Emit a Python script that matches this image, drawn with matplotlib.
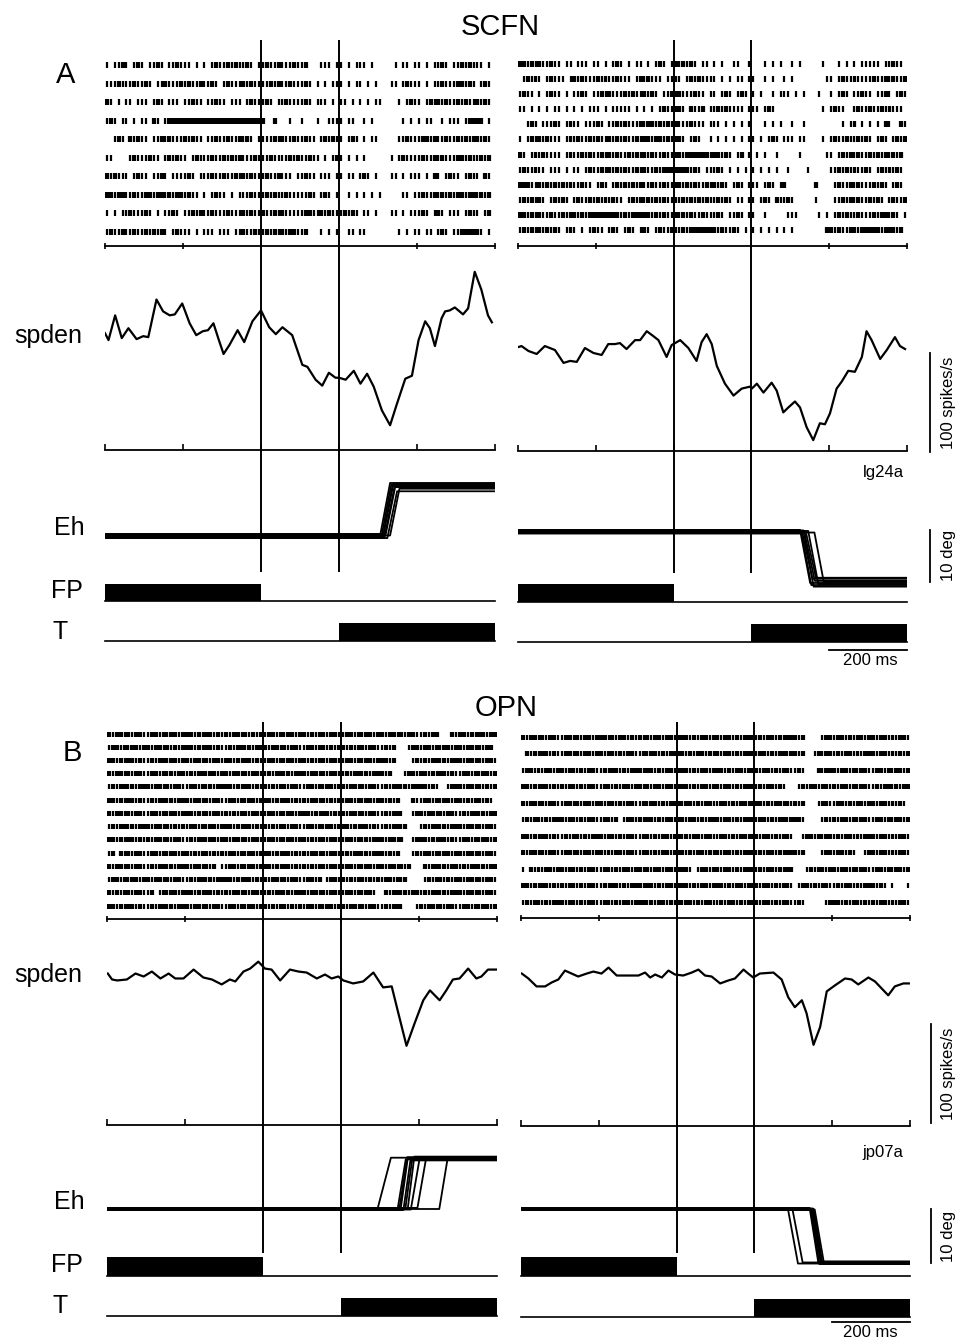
import matplotlib.pyplot as plt
import numpy as np

plt.rcParams["font.family"] = ["Liberation Sans", "DejaVu Sans"]

FIG_W, FIG_H, DPI = 959, 1343, 100

TIME_SPAN = (0, 1000)
TIME_TICKS = [0, 200, 400, 600, 800, 1000]
EVENT_TIMES = [400, 600]          # FP off, T on
FP_ON = (0, 400)
T_ON = (600, 1000)
BIN_MS = 10                       # raster strings: one char per 10 ms, ' ' none, '|' one spike, ':' two

# ---------------- rasters ----------------
RASTER_A_LEFT = [
    "| ||:| |:|" " ||:| ||:|" "|| | | |:|" "|:|:||:| |" "|:||:|||:|" "|:   ||| |" "| | ||| | " "    | || |" "| | ||:| |" "|:|:||| | ",
    "|||:|||:||" ":| ||:|||:" "|:||:||:| " "|:|||:|:||" "||:|:||:||" "|:| | | ||" "| | || | |" "   || |:||" "| | ||:|||" "::|:| |:| ",
    ":| | || ||" "| |:| ||| " "||:|| ||:|" "| ||| |:||" "|:| ||:|||" "|:| ||| | " "|| | | | |" "|    | |:|" "| |:|:|:||" ":|:||:|:| ",
    "|:| || | |" "| :| |::::" "::::::::::" "::::::::::" ":  :   |  " "|   |  |||" "| ||  | | " "      | | " "| ||  | ||" "| |:::: | ",
    "  |:| :|:|" "| ||:|:|||" ":|:|| ||:|" "|:||:|:| |" "|||:|:||:|" "|:|| |:|:|" "| |:| | ||" "     ||:||" "|::|:||:||" ":|:|::|:| ",
    "||    |:||" "|:|| |:|:|" "| |:|||:||" ":|:|:|||:|" "||:||||:|:" "||:|| | |:" "| | | |   " "   | |:|||" "|:||:|:|||" "::|:||:|: ",
    ":|:||| |:|" "| ||:| |||" "|:| |||:||" ":||:|:|:||" "|:||:||| |" "|:|| ||| |" "| || |:| |" "   || | ||" "| | :| |:|" "| |:|| :| ",
    "::|::||:||" "::|::|:|::" "|:|| | |:|" "| | |||:||" "|:|:||:|||" "||:| |:| |" "  | | | | " "|     || |" "|:||:|:|:|" "::|::|:|: ",
    "| | ||:|||" ":| | ||:| " "||:|:||:||" "|:|||:|:||" ":||:|:||||" "|::||:|:||" "|:|:| || |" "   || | ||" "|:| |:| ||" "| |:|| |: ",
    "|:||:||:||" ":|:|:| |:|" "|| | ||| |" "|| ||:||:|" "|:|:|:|::|" "|:   | | |" "  || ||   " "     | | |" "| || |:| |" "|:::::| | ",
]

RASTER_A_RIGHT = [
    "::|:|:||:|" "| || ||| |" "| | |:| | " "|| | |:| |" ":|:|:| || " "| |  ||  |" "   | | |  " "| |     | " "  | | | ||" "||| ||:|| ",
    " |:|:| |:|" "|| |:|:|||" ":|:||:||| " "|:|:||| ||" "|| |:|:|||" "| | | || |" "|  | |  | " "|        |" "| |:||:|||" "|:||:|:||:",
    "|:|| | |:|" "| | ||:| |" "|:|:|||:|:" "||:|:| ||:" "|:|||:|| |" "| |:| |:| " "| |  | |||" " | |   |  " "| |:| ||:|" "| ||:| |:|",
    "|| | | | |" "| | | | ||" "| | ||||| " "| | | |:||" "|:| :||: |" "|:|:|||| |" "|| |:|    " "        | " "|:||  |:||" ":||:|:||| ",
    "  |:| |||:" "| |:|| |||" ":| ||:|:||" "|:|::|:|:|" ":|||:||| |" "|| | | | |" "   | | |  " "|  |      " "   | |: | " "| | :|  :|",
    "| |:|:|:||" "| |:|:||:|" ":||:|:|:||" ":|::|::|:|" "|:| |:|  |" " | | | | |" "| | |:| ||" "| ||    | " "|:||:||:|:" "| |:| |:|:",
    ":| |:|:|||" "| |:||:|:|" "|:|:|:||:|" ":|:|:||:||" "|:|::::::|" "::|:| |: |" " | |  |   " "  |      |" "| |:|:|:||" ":|:|:|:|: ",
    "|:||:|| ||" "| | || |:|" "|:|:|:|:||" ":|:||:|:::" "::::|:| ||" "|:| | | | " "| | | |  |" "    |     " "||:|:|:||:" "| |:|:|:| ",
    ":::||:|:|:" "|:|:||:|| " "|:| |:|:|:" "|:||:||:||" "|:|:|:||:|" ":|:| |:| |" "|| |:| |: " "      :   " " |:||:|:||" "|:|:| |:| ",
    "|:|:|:| |:" "|:| |:||:|" ":|:|:|| |:" "|:|:|:|:||" "||:|:|:|:|" "|:|:| || |" "| |:| :||:" "|     |   " " ||:|:|:||" ":|:| |:||:",
    "::|:|:||:|" "|:|::|:|::" "::::::|:|:" "::::|:|:||" ":|:|:||:||" "|:| ||:| |" "|  |     |" "||     | |" " |:|:||:||" "|:|::|:| |",
    "|:|:|:|:|:" "| |:| | |:" "|| |:| |:|" " |:| |:||:" "||:|::::::" ":|:||:| | " "| | | | | " "|        :" ":|:||::|::" ":::|:::|: ",
]

RASTER_B_LEFT = [
    ":|::|:|::|" "|::|:|::|:" "::|:|::|:|" ":|::|:|:|:" "|::|:|::|:" ":|:|::|::|" "|::|:|::|:" ":|::|:|::|" "|:|::   :|" "::|:|::|::",
    "|::|:|::|:" ":|::|:|:|:" "::|:|::|:|" "|:|::|:|::" ":|::|:|::|" "|::|::|:|:" ":|:|::|::|" "|:|:   |::" "|::|:|::|:" ":|::|:|:: ",
    "::|:|::|:|" "|:|::|::|:" ":|::|:|::|" "::|:|::|:|" "|::|:|::|:" ":|:|::|::|" "|::|:|::|:" "::|:    |:" "|:|::|:|::" ":|::|:|::|",
    ":|::|:|::|" "|::|:|:|::" "|:|::|::|:" ":|::|:|::|" "|:|::|:|::" ":|::|:|::|" "|:|::|:|::" ":|:   |::|" "::|:|::|:|" "|::|:|::|:",
    "|:|::|:|::" ":|::|:|::|" "|::|:|:|::" "::|:|::|:|" ":|:|::|::|" "|::|:|::|:" ":|::|:|::|" "|:|::|:|::" "::|:|  |::" ":|::|:|:|:",
    "::|:|::|:|" "|:|::|:|::" ":|::|:|::|" "|::|:|::|:" "::|:|::|:|" ":|::|:|:|:" "|::|:|::|:" ":|:|:   :|" "|::|:|::|:" ":|:|::|:| ",
    ":|::|:|::|" "|::|:|::|:" "::|:|:|::|" ":|:|::|::|" "|::|:|::|:" "::|:|::|:|" ":|::|:|::|" "|:|::|  |:" ":|::|:|::|" "|:|::|:|::",
    "|:|::|:|::" ":|::|:|:|:" "|::|:|::|:" "::|:|::|:|" ":|:|::|::|" "|::|:|::|:" "::|:|::|:|" "|:|::|:   " "|:|::|:|::" ":|::|:|::|",
    "::|:|::|:|" ":|::|:|::|" "|:|::|::|:" ":|::|:|::|" "|::|:|::|:" ":|:|::|::|" "|::|:|:|::" ":|::|:  |:" "::|:|::|:|" "|::|:|::|:",
    "|: :|:|::|" "|::|:|::|:" ":|:|::|:|:" "|::|:|::|:" "::|:|::|:|" ":|::|:|::|" "|:|::|:|::" ":|:|:   |:" "|::|:|::|:" ":|::|:|::|",
    ":|::|:|::|" "|:|::|:|::" ":|::|:|: |" "|::|:|::|:" "::|:|::|:|" ":|:|::|::|" "|::|:|::|:" ":|::|:|:  " " :|::|:|::" "|:|::|:|::",
    "|::|:|::|:" ":|::|:|::|" "|:|::|:|::" "::|:|::|:|" ":|::|:|::|" "|::|: |::|" ":|:|::|:|:" "|::|:|:   " " |:|::|:|:" ":|::|:|::|",
    ":|:|::|::|" "|: |:|::|:" "::|:|::|:|" ":|::|:|::|" "|:|::|:|::" ":|::|:|::|" "|::|:|::| " " :|::|:|::" "|:|::|:|::" ":|::|:|::|",
    "::|:|::|:|" "|:|::|:|::" ":|::|:|::|" "|::|:|::|:" ":|:|::|:|:" "|::|:|::|:" ":|::|:|::|" "|:|::|   |" ":|::|:|::|" "|::|:|::|:",
]

RASTER_B_RIGHT = [
    ":|::|:|::|" "|::|:|::|:" "::|:|::|:|" ":|:|::|::|" "|::|:|::|:" ":|::|:|::|" "|:|::|:|::" ":|:    |::" "|::|:|::|:" ":|::|:|::|",
    " :|:|::|:|" "|::|:|::|:" ":|::|:|::|" "|:|::|:|::" "::|:|::|:|" ":|::|:|::|" "|::|:|::|:" ":|:  |:|::" "|:|::|:|::" ":|::|:|:|:",
    "|::|:|::|:" ":|::|:|::|" "|:|::|:|::" ":|::|:|::|" "|::|:|::|:" "::|:|::|:|" ":|::|:|::|" "|:|   :|::" ":|::|:|::|" "|::|:|::|:",
    "::|:|::|:|" ":|::|:|::|" "|::|:|::|:" ":|:|::|::|" "|::|:|::|:" ":|::|:|::|" "|:|::|:|  " " |:|::|::|" ":|::|:|::|" "|:|::|:|::",
    ":|::|:|::|" "|::|:|::|:" ":|::|:|::|" "|:|::|:|::" ":|::|:|::|" "|::|:|::|:" "::|:|::|:|" ":|:   |::|" "|::|:|::|:" ":|::|:|:| ",
    "|:|::|:|::" ":|::|:|::|" "|::|: |::|" ":|::|:|::|" "|:|::|:|::" ":|::|:|::|" "|::|:|::|:" "::|    |:|" ":|::|:|::|" "|::|:|::|:",
    "::|:|::|:|" "|:|::|:|::" ":|::|:|::|" "|::|:|::|:" ":|:|::|::|" "|::|:|::|:" ":|::|:|::|" "  |::|:|::" "|:|::|:|::" ":|::|:|::|",
    ":|::|:|::|" "|::|:|::|:" ":|:|::|::|" "|::|:|::|:" "::|:|::|:|" ":|::|:|::|" "|:|::|:|::" ":|:    |::" "|::|:|  |:" ":|::|:|::|",
    "| :|:|::|:" ":|::|:|::|" "|::|:|::|:" ":|:|::|::|" "|::| |::|:" ":|::|:|::|" "|:|::|:|::" "   |:|::|:" ":|::|:|::|" "|::|:|::|:",
    "::|:|::|:|" ":|::|:|::|" "|:|::|:|::" ":|::|:|::|" "|::|:|::|:" "::|:|::|:|" ":|::|:|::|" " |::|:|::|" "|:|::|:|::" ":|:| |   |",
    "|:|::|:|::" ":|::|:|::|" "|::|:|::|:" "::|:|::|:|" ":|::|:|::|" "|:|::|:|::" ":|::|:|::|" "|:|     |:" "::|:|::|:|" ":|::|:|::|",
]

# ---------------- spike density (ms, spikes/s) ----------------
SPDEN_A_LEFT_T = [0, 9, 26, 43, 60, 81, 98, 111, 132, 149, 166, 179, 198, 217, 234, 251, 264, 278, 292, 304,
                  319, 340, 357, 378, 400, 421, 438, 455, 480, 506, 519, 540, 557, 574, 591, 600, 617, 638, 655, 672,
                  689, 710, 731, 748, 770, 787, 804, 821, 833, 846, 863, 872, 884, 897, 918, 931, 948, 965, 982, 992]
SPDEN_A_LEFT_RATE = [118, 111, 136, 113, 123, 112, 115, 114, 152, 140, 136, 137, 148, 128, 116, 120, 121, 128, 111, 97,
                     106, 121, 109, 130, 141, 124, 117, 124, 116, 86, 84, 71, 65, 78, 73, 73, 71, 80, 67, 77,
                     64, 40, 25, 46, 72, 75, 111, 130, 123, 105, 133, 140, 141, 144, 137, 143, 180, 162, 136, 129]

SPDEN_A_RIGHT_T = [1, 9, 27, 48, 69, 95, 117, 134, 151, 172, 194, 215, 232, 249, 262, 279, 301, 314, 331, 348,
                   361, 382, 395, 417, 438, 459, 472, 485, 498, 511, 532, 554, 575, 596, 601, 614, 631, 652, 665, 682,
                   695, 712, 725, 742, 759, 776, 789, 802, 819, 832, 849, 866, 884, 896, 909, 931, 948, 969, 982, 995]
SPDEN_A_RIGHT_RATE = [105, 106, 101, 98, 106, 102, 89, 91, 90, 104, 99, 97, 108, 108, 109, 103, 112, 112, 121, 116,
                      112, 95, 107, 112, 104, 91, 110, 118, 108, 86, 68, 56, 63, 65, 63, 68, 59, 69, 61, 39,
                      44, 50, 44, 24, 11, 28, 27, 38, 63, 70, 81, 80, 95, 121, 112, 93, 102, 115, 106, 103]

SPDEN_B_LEFT_T = [2, 13, 26, 51, 73, 94, 115, 137, 158, 175, 196, 222, 247, 269, 294, 315, 329, 350, 367, 388,
                  405, 422, 444, 469, 491, 512, 538, 559, 576, 593, 606, 631, 657, 683, 708, 730, 747, 768, 789, 811,
                  828, 853, 870, 887, 904, 926, 947, 960, 977, 998]
SPDEN_B_LEFT_RATE = [153, 147, 146, 147, 153, 150, 155, 148, 153, 148, 148, 157, 149, 147, 142, 147, 145, 155, 158, 165,
                     158, 157, 146, 157, 155, 154, 148, 152, 148, 150, 146, 143, 145, 154, 139, 140, 113, 80, 103, 126,
                     136, 126, 136, 147, 148, 158, 148, 150, 157, 157]

SPDEN_B_RIGHT_T = [2, 19, 40, 62, 79, 96, 113, 130, 147, 169, 186, 207, 225, 246, 272, 302, 319, 332, 345, 362,
                   379, 396, 417, 439, 456, 473, 490, 512, 533, 550, 572, 584, 597, 614, 649, 670, 687, 704, 722, 734,
                   752, 769, 786, 807, 833, 850, 867, 893, 910, 927, 944, 961, 983, 997]
SPDEN_B_RIGHT_RATE = [154, 149, 141, 141, 145, 148, 157, 154, 151, 154, 156, 154, 160, 152, 152, 152, 155, 150, 153, 150,
                      157, 153, 152, 155, 158, 152, 151, 144, 147, 149, 158, 154, 150, 154, 155, 148, 130, 120, 127, 114,
                      82, 100, 136, 142, 149, 148, 143, 150, 146, 139, 132, 141, 144, 144]

# ---------------- horizontal eye position, one entry per trial (ms, deg) ----------------
EH_A_LEFT_ONSET = [706, 709, 712, 714, 717, 720, 724, 731]
EH_A_LEFT_END = [731, 734, 737, 739, 742, 745, 749, 755]
EH_A_LEFT_START = [0.3, 0.0, -0.3, 0.2, -0.2, 0.4, -0.4, 0.1]
EH_A_LEFT_FINAL = [10.2, 9.9, 9.6, 10.0, 9.4, 9.8, 8.6, 9.1]

EH_A_RIGHT_ONSET = [725, 728, 731, 734, 737, 740, 746, 762]
EH_A_RIGHT_END = [751, 754, 757, 760, 763, 766, 772, 786]
EH_A_RIGHT_START = [0.4, 0.1, -0.2, 0.3, -0.3, 0.0, 0.2, -0.1]
EH_A_RIGHT_FINAL = [-9.8, -10.2, -9.0, -10.5, -9.4, -8.8, -10.0, -9.6]

EH_B_LEFT_ONSET = [694, 745, 750, 753, 760, 765, 771, 779, 796, 852]
EH_B_LEFT_END = [728, 766, 770, 771, 778, 783, 788, 801, 818, 873]
EH_B_LEFT_START = [0.1, -0.1, 0.2, 0.0, -0.2, 0.1, 0.0, -0.1, 0.2, 0.0]
EH_B_LEFT_FINAL = [9.5, 9.2, 9.6, 9.3, 9.0, 9.4, 9.7, 9.1, 9.3, 9.2]

EH_B_RIGHT_ONSET = [686, 698, 742, 745, 748, 750, 752, 755]
EH_B_RIGHT_END = [712, 724, 764, 767, 770, 772, 775, 778]
EH_B_RIGHT_START = [0.1, -0.1, 0.2, 0.0, -0.2, 0.1, 0.0, -0.1]
EH_B_RIGHT_FINAL = [-10.1, -9.9, -9.8, -10.2, -9.9, -10.0, -10.1, -9.7]

# ---------------- layout (pixels) ----------------
PX_PER_SPIKE = 0.99      # 100 spikes/s = 99 px
LAYOUT = {
    "A_left": dict(x=(105, 495), rows=(65, 232), base=246, spden=(246, 450), eh=(455, 578), zero=536,
                   deg_px=5.2, fp=(584, 601), t=(623, 641), events=(40, 572), tick=6),
    "A_right": dict(x=(518, 907), rows=(64, 230), base=246, spden=(246, 451), eh=(455, 592), zero=532,
                    deg_px=5.2, fp=(584, 602), t=(624, 642), events=(40, 573), tick=6),
    "B_left": dict(x=(107, 497), rows=(734, 906), base=919, spden=(919, 1125), eh=(1140, 1255), zero=1209,
                   deg_px=5.4, fp=(1257, 1276), t=(1298, 1316), events=(722, 1253), tick=5),
    "B_right": dict(x=(521, 910), rows=(737, 902), base=918, spden=(918, 1126), eh=(1140, 1272), zero=1209,
                    deg_px=5.4, fp=(1257, 1276), t=(1299, 1317), events=(722, 1253), tick=5),
}
LW = 1.4


def px_axes(fig, xr, y0, y1):
    x0, x1 = xr
    ax = fig.add_axes([x0 / FIG_W, 1 - y1 / FIG_H, (x1 - x0) / FIG_W, (y1 - y0) / FIG_H])
    ax.set_facecolor("none")
    for s in ax.spines.values():
        s.set_visible(False)
    ax.set_xticks([])
    ax.set_yticks([])
    ax.set_xlim(*TIME_SPAN)
    return ax


def fig_text(fig, x, y, s, size, **kw):
    fig.text(x / FIG_W, 1 - y / FIG_H, s, fontsize=size, ha=kw.pop("ha", "center"),
             va=kw.pop("va", "center"), **kw)


def spike_times(row):
    times = []
    for i, ch in enumerate(row.ljust(100)[:100]):
        n = " |:".index(ch)
        times += [i * BIN_MS + (k + 0.5) * BIN_MS / n for k in range(n)]
    return times


def draw_column(fig, lay, rows, sp_t, sp_r, onset, end, start, final):
    # raster
    first, last = lay["rows"]
    n = len(rows)
    step = (last - first) / (n - 1)
    ax = px_axes(fig, lay["x"], first - 0.5 * step, lay["base"])
    ax.set_ylim(n - 1 + (lay["base"] - last) / step, -0.5)
    ax.eventplot([spike_times(r) for r in rows], lineoffsets=np.arange(n),
                 linelengths=lay["tick"] / step, linewidths=1.6, colors="black")
    ax.spines["bottom"].set_visible(True)
    ax.spines["bottom"].set_linewidth(1.3)
    ax.set_xticks(TIME_TICKS)
    ax.tick_params(axis="x", direction="inout", length=5, width=1.2, labelbottom=False)

    # spike density
    top, bottom = lay["spden"]
    ax_sp = px_axes(fig, lay["x"], top, bottom)
    ax_sp.set_ylim(0, (bottom - top) / PX_PER_SPIKE)
    ax_sp.plot(sp_t, sp_r, color="black", lw=1.6, solid_joinstyle="round")
    ax_sp.spines["bottom"].set_visible(True)
    ax_sp.spines["bottom"].set_linewidth(1.3)
    ax_sp.set_xticks(TIME_TICKS)
    ax_sp.tick_params(axis="x", direction="in", length=4, width=1.2, labelbottom=False)

    # eye traces
    top, bottom = lay["eh"]
    ax_eh = px_axes(fig, lay["x"], top, bottom)
    ax_eh.set_ylim((lay["zero"] - bottom) / lay["deg_px"], (lay["zero"] - top) / lay["deg_px"])
    for on, off, y0, y1 in zip(onset, end, start, final):
        ax_eh.plot([TIME_SPAN[0], on, off, TIME_SPAN[1]], [y0, y0, y1, y1], color="black", lw=1.3,
                   solid_joinstyle="round")

    # FP and T bars
    axes_bars = []
    for key, interval in (("fp", FP_ON), ("t", T_ON)):
        top, bottom = lay[key]
        ax_b = px_axes(fig, lay["x"], top, bottom)
        ax_b.set_ylim(0, 1)
        ax_b.fill_between(interval, 0, 1, color="black", lw=0)
        ax_b.plot(TIME_SPAN, [0, 0], color="black", lw=1.2, clip_on=False)
        axes_bars.append(ax_b)

    # event markers
    top, bottom = lay["events"]
    ax_ev = px_axes(fig, lay["x"], top, bottom)
    ax_ev.set_ylim(0, 1)
    for t in EVENT_TIMES:
        ax_ev.plot([t, t], [0, 1], color="black", lw=LW)

    return ax_sp, ax_eh, axes_bars[1]


def scale_bars(fig, lay, ax_sp, ax_eh, ax_t, bar_t, spk_y0, deg_y0, ms_y, label, label_y, ms_text_y):
    ax_sp.plot([bar_t, bar_t], [spk_y0, spk_y0 + 100], color="black", lw=1.3, clip_on=False)
    ax_eh.plot([bar_t, bar_t], [deg_y0, deg_y0 + 10], color="black", lw=1.3, clip_on=False)
    ax_t.plot([800, 1000], [ms_y, ms_y], color="black", lw=1.3, clip_on=False)
    sp_mid = (lay["spden"][1] - (spk_y0 + 50) * PX_PER_SPIKE)
    eh_mid = lay["zero"] - (deg_y0 + 5) * lay["deg_px"]
    fig_text(fig, 948, sp_mid, "100 spikes/s", 12, rotation=90)
    fig_text(fig, 948, eh_mid, "10 deg", 12, rotation=90)
    fig_text(fig, 883, label_y, label, 12)
    fig_text(fig, 870, ms_text_y, "200 ms", 12, va="top")


def main():
    fig = plt.figure(figsize=(FIG_W / DPI, FIG_H / DPI), dpi=DPI)

    draw_column(fig, LAYOUT["A_left"], RASTER_A_LEFT, SPDEN_A_LEFT_T, SPDEN_A_LEFT_RATE,
                EH_A_LEFT_ONSET, EH_A_LEFT_END, EH_A_LEFT_START, EH_A_LEFT_FINAL)
    sp, eh, tt = draw_column(fig, LAYOUT["A_right"], RASTER_A_RIGHT, SPDEN_A_RIGHT_T, SPDEN_A_RIGHT_RATE,
                             EH_A_RIGHT_ONSET, EH_A_RIGHT_END, EH_A_RIGHT_START, EH_A_RIGHT_FINAL)
    scale_bars(fig, LAYOUT["A_right"], sp, eh, tt, 1058, -1, -9.6, -0.44, "lg24a", 472, 653)

    draw_column(fig, LAYOUT["B_left"], RASTER_B_LEFT, SPDEN_B_LEFT_T, SPDEN_B_LEFT_RATE,
                EH_B_LEFT_ONSET, EH_B_LEFT_END, EH_B_LEFT_START, EH_B_LEFT_FINAL)
    sp, eh, tt = draw_column(fig, LAYOUT["B_right"], RASTER_B_RIGHT, SPDEN_B_RIGHT_T, SPDEN_B_RIGHT_RATE,
                             EH_B_RIGHT_ONSET, EH_B_RIGHT_END, EH_B_RIGHT_START, EH_B_RIGHT_FINAL)
    scale_bars(fig, LAYOUT["B_right"], sp, eh, tt, 1053, 3, -10, -0.28, "jp07a", 1153, 1325)

    # headings and row labels
    fig_text(fig, 500, 27, "SCFN", 21)
    fig_text(fig, 506, 708, "OPN", 21)
    fig_text(fig, 66, 75, "A", 21)
    fig_text(fig, 72, 753, "B", 21)
    for y_sp, y_eh, y_fp, y_t in ((336, 528, 591, 632), (975, 1202, 1265, 1306)):
        fig_text(fig, 48, y_sp, "spden", 18)
        fig_text(fig, 69, y_eh, "Eh", 18)
        fig_text(fig, 67, y_fp, "FP", 18)
        fig_text(fig, 60, y_t, "T", 18)

    fig.savefig("out.png", dpi=DPI)


if __name__ == "__main__":
    main()
